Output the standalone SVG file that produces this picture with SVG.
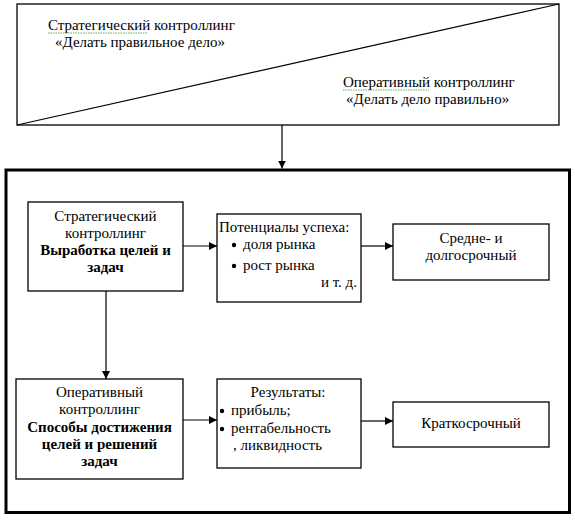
<svg xmlns="http://www.w3.org/2000/svg" width="575" height="520" viewBox="0 0 575 520">
<defs>
<marker id="ah" viewBox="0 0 10 10" refX="10" refY="5" markerWidth="8" markerHeight="8" markerUnits="userSpaceOnUse" orient="auto">
<path d="M0,0 L10,5 L0,10 z" fill="#000"/>
</marker>
</defs>
<rect width="575" height="520" fill="#fff"/>
<g id="header">
<rect x="17" y="4" width="542" height="121" fill="#fff" stroke="#000" stroke-width="1.3"/>
<line x1="17" y1="125" x2="559" y2="4" stroke="#000" stroke-width="1.2"/>
<text font-family="Liberation Serif" font-size="15" x="48" y="30">Стратегический контроллинг</text>
<path d="M48,33 h100" stroke="#3a9a3a" stroke-width="0.8" stroke-dasharray="1.5 1" fill="none"/>
<text font-family="Liberation Serif" font-size="15" x="55" y="47">«Делать правильное дело»</text>
<text font-family="Liberation Serif" font-size="15" x="343" y="87">Оперативный контроллинг</text>
<path d="M343,90 h86" stroke="#3a9a3a" stroke-width="0.8" stroke-dasharray="1.5 1" fill="none"/>
<text font-family="Liberation Serif" font-size="15" x="346" y="104">«Делать дело правильно»</text>
</g>
<g id="frame">
<rect x="6" y="170" width="563.5" height="342.5" fill="none" stroke="#000" stroke-width="3"/>
</g>
<g id="strategic" font-family="Liberation Serif" font-size="15" text-anchor="middle">
<rect x="28" y="202" width="155" height="89" fill="#fff" stroke="#000" stroke-width="1.3"/>
<text font-family="Liberation Serif" x="105.5" y="221">Стратегический</text>
<text font-family="Liberation Serif" x="105.5" y="238">контроллинг</text>
<text font-family="Liberation Serif" font-weight="bold" x="105.5" y="255">Выработка целей и</text>
<text font-family="Liberation Serif" font-weight="bold" x="105.5" y="272">задач</text>
</g>
<g id="potentials" font-size="15">
<rect x="217" y="214" width="144" height="88" fill="#fff" stroke="#000" stroke-width="1.3"/>
<text font-family="Liberation Serif" x="219" y="232">Потенциалы успеха:</text>
<circle cx="234" cy="245" r="2.2"/>
<text font-family="Liberation Serif" x="243" y="249">доля рынка</text>
<circle cx="234" cy="266" r="2.2"/>
<text font-family="Liberation Serif" x="243" y="270">рост рынка</text>
<text font-family="Liberation Serif" x="357" y="287" text-anchor="end">и т. д.</text>
</g>
<g id="midlong" font-size="15" text-anchor="middle">
<rect x="393" y="224" width="156" height="56" fill="#fff" stroke="#000" stroke-width="1.3"/>
<text font-family="Liberation Serif" x="471" y="243">Средне- и</text>
<text font-family="Liberation Serif" x="471" y="260">долгосрочный</text>
</g>
<g id="operative" font-size="15" text-anchor="middle">
<rect x="16" y="379" width="167" height="100" fill="#fff" stroke="#000" stroke-width="1.3"/>
<text font-family="Liberation Serif" x="99.5" y="397">Оперативный</text>
<text font-family="Liberation Serif" x="99.5" y="414">контроллинг</text>
<text font-family="Liberation Serif" font-weight="bold" x="99.5" y="432">Способы достижения</text>
<text font-family="Liberation Serif" font-weight="bold" x="99.5" y="449">целей и решений</text>
<text font-family="Liberation Serif" font-weight="bold" x="99.5" y="466">задач</text>
</g>
<g id="results" font-size="15">
<rect x="217" y="379" width="144" height="89" fill="#fff" stroke="#000" stroke-width="1.3"/>
<text font-family="Liberation Serif" x="288" y="397" text-anchor="middle">Результаты:</text>
<circle cx="222" cy="411" r="2.2"/>
<text font-family="Liberation Serif" x="231" y="415">прибыль;</text>
<circle cx="222" cy="429" r="2.2"/>
<text font-family="Liberation Serif" x="231" y="433">рентабельность</text>
<text font-family="Liberation Serif" x="233" y="450">, ликвидность</text>
</g>
<g id="shortterm" font-size="15">
<rect x="393" y="402" width="156" height="45" fill="#fff" stroke="#000" stroke-width="1.3"/>
<text font-family="Liberation Serif" x="471" y="428" text-anchor="middle">Краткосрочный</text>
</g>
<g id="connectors" stroke="#000" stroke-width="1.2" fill="none">
<line x1="282" y1="125" x2="282" y2="168.5" marker-end="url(#ah)"/>
<line x1="183" y1="246" x2="217" y2="246" marker-end="url(#ah)"/>
<line x1="361" y1="246" x2="393" y2="246" marker-end="url(#ah)"/>
<line x1="106" y1="291" x2="106" y2="379" marker-end="url(#ah)"/>
<line x1="183" y1="420" x2="217" y2="420" marker-end="url(#ah)"/>
<line x1="361" y1="421" x2="393" y2="421" marker-end="url(#ah)"/>
</g>
</svg>
